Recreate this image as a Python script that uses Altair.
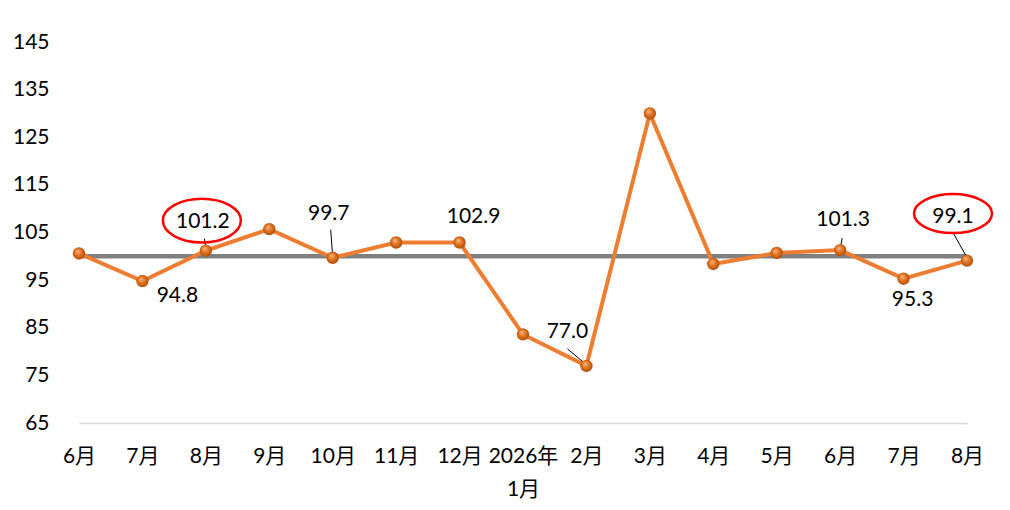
import json
import altair as alt
import pandas as pd

# ---- data ----
months = ["6月", "7月", "8月", "9月", "10月", "11月", "12月", "2026年\n1月",
          "2月", "3月", "4月", "5月", "6月", "7月", "8月"]
values = [100.6, 94.8, 101.2, 105.7, 99.7, 102.9, 102.9, 83.6,
          77.0, 130.0, 98.4, 100.7, 101.3, 95.3, 99.1]
ref_value = [100]
y_ticks = [65, 75, 85, 95, 105, 115, 125, 135, 145]
labeled_idx = [1, 2, 4, 6, 8, 12, 13, 14]
circled_idx = [2, 14]

df = pd.DataFrame({"i": list(range(len(months))), "month": months, "value": values})
ref_df = pd.DataFrame({"ref": ref_value})

# ---- style ----
FONT = "Lato, 'Noto Sans CJK SC', sans-serif"
FS = 21
label_style = {  # idx: (dx, dy)
    1: (35, 15), 2: (-3, -29), 4: (-4, -44), 6: (14, -26),
    8: (-19, -34), 12: (3, -30), 13: (9, 21), 14: (-14, -44),
}
leader_style = {  # idx: (xOffset, yOffset, x2Offset, y2Offset)
    2: (-1.5, -12, 0, -3), 4: (-2, -28, 0, -1), 8: (-19, -17, -1, -2),
    12: (2, -12, 0, -1), 14: (-14, -28, 0, -3),
}
ellipse_style = {  # idx: (xOffset, yOffset, width, ratio)
    2: (-4, -30, 78, 0.56), 14: (-14, -47, 78, 0.5),
}

label_lines = json.dumps([m.split("\n") for m in months], ensure_ascii=False)

x_enc = alt.X(
    "i:O",
    scale=alt.Scale(type="point", padding=0),
    axis=alt.Axis(
        title=None, labelAngle=0, labelExpr=f"{label_lines}[datum.value]",
        labelOverlap=False, labelBound=False, labelFlush=False,
        domain=True, domainColor="#D9D9D9", domainWidth=1.5,
        ticks=False, tickSize=0, labelPadding=22, labelBaseline="top",
        labelFont=FONT, labelFontSize=FS, labelColor="#000", labelLineHeight=33,
    ),
)
y_enc = alt.Y(
    "value:Q",
    scale=alt.Scale(domain=[65, 145], nice=False, zero=False),
    axis=alt.Axis(
        title=None, values=y_ticks, grid=False, domain=False, ticks=False,
        tickSize=0, labelPadding=30, labelFont=FONT, labelFontSize=FS,
        labelColor="#000",
    ),
)

base = alt.Chart(df)

ref = alt.Chart(ref_df).mark_rule(color="#808080", strokeWidth=4.5).encode(
    y=alt.Y("ref:Q")
)
line = base.mark_line(color="#ED7D31", strokeWidth=4).encode(x=x_enc, y=y_enc)

layers = [ref, line]

for idx, (xo, yo, x2o, y2o) in leader_style.items():
    layers.append(
        base.transform_filter(alt.datum.i == idx)
        .mark_rule(color="#000", strokeWidth=1, xOffset=xo, yOffset=yo,
                   x2Offset=x2o, y2Offset=y2o)
        .encode(x="i:O", y="value:Q", x2="i:O", y2="value:Q")
    )

grad = alt.RadialGradient(
    gradient="radial",
    stops=[
        alt.GradientStop(color="#F9B98A", offset=0),
        alt.GradientStop(color="#E2731F", offset=0.45),
        alt.GradientStop(color="#9A4208", offset=1),
    ],
    x1=0.38, y1=0.32, r1=0, x2=0.5, y2=0.5, r2=0.62,
)
points = base.mark_circle(fill=grad, size=154, opacity=1).encode(x="i:O", y="value:Q")
layers.append(points)

for idx, (dx, dy) in label_style.items():
    layers.append(
        base.transform_filter(alt.datum.i == idx)
        .mark_text(dx=dx, dy=dy, font=FONT, fontSize=FS, color="#000",
                   align="center", baseline="middle")
        .encode(x="i:O", y="value:Q", text=alt.Text("value:Q", format=".1f"))
    )

for idx, (xo, yo, w, ratio) in ellipse_style.items():
    path = f"M -1 0 A 1 {ratio} 0 1 1 1 0 A 1 {ratio} 0 1 1 -1 0 Z"
    layers.append(
        base.transform_filter(alt.datum.i == idx)
        .mark_point(shape=path, size=w * w, color="#FF0000", filled=False,
                    strokeWidth=2.5, opacity=1, xOffset=xo, yOffset=yo)
        .encode(x="i:O", y="value:Q")
    )

chart = (
    alt.layer(*layers)
    .properties(
        width=888, height=381,
        autosize=alt.AutoSizeParams(type="none"),
        padding={"left": 71, "top": 34, "right": 30, "bottom": 80},
    )
    .configure_view(stroke=None)
    .configure_axis(grid=False)
)

chart.save("out.html", embed_options={"renderer": "svg", "actions": False})
